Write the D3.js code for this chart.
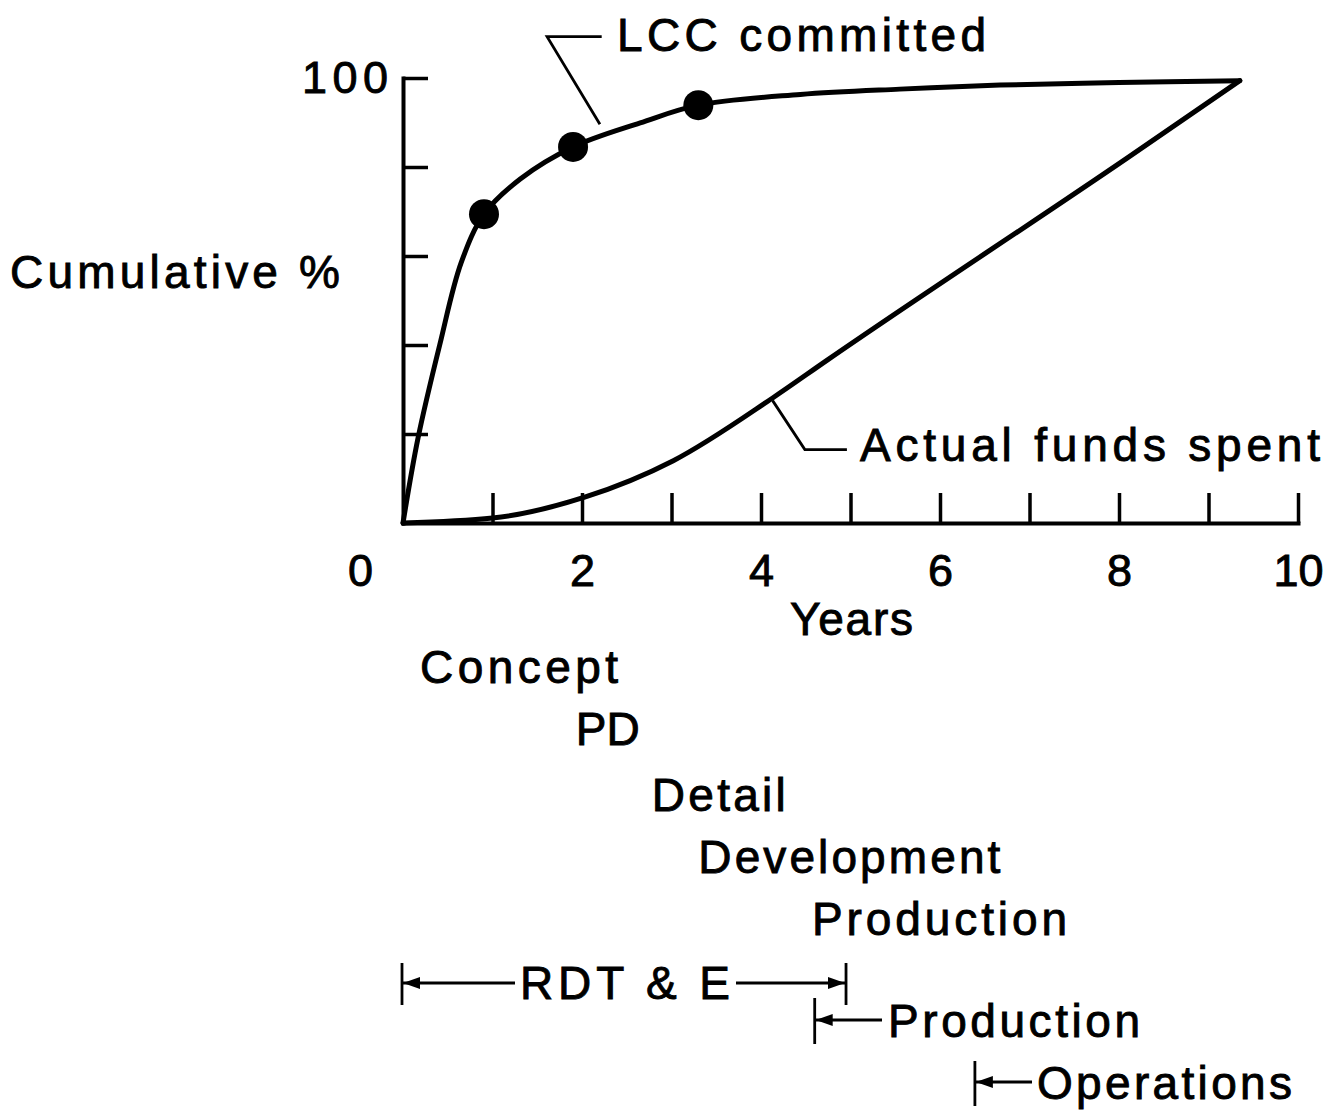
<!DOCTYPE html>
<html><head><meta charset="utf-8">
<script src="https://cdn.jsdelivr.net/npm/d3@7"></script>
<style>
body{margin:0;background:#fff}
svg text{font-family:"Liberation Sans",Arial,Helvetica,sans-serif;fill:#000;stroke:#000;stroke-width:0.9px}
</style>
</head><body>
<svg id="c" width="1337" height="1110"></svg>
<script>
// ---- data ----
const lccYears   = [0, 0.168, 0.41, 0.65, 0.905, 1.31, 1.90, 2.65, 3.30, 4.44, 5.55, 6.67, 8.0, 9.35];
const lccValues  = [0, 19.1, 40, 58.5, 69.4, 77.3, 84.5, 89.9, 93.9, 96.3, 97.5, 98.4, 99.0, 99.4];
const markerYears  = [0.905, 1.90, 3.30];
const markerValues = [69.4, 84.5, 93.9];
const fundsYears  = [0, 1.0, 2.03, 3.02, 4.13, 4.74, 8.09, 9.35];
const fundsValues = [0, 1.1, 5.8, 14.0, 28.1, 36.6, 82.0, 99.4];
const xTickValues = [0,1,2,3,4,5,6,7,8,9,10];
const xTickLabels = ["0","","2","","4","","6","","8","","10"];
const yTickValues = [20,40,60,80,100];
const yTickLabels = ["","","","","100"];
const phaseNames  = ["Concept","PD","Detail","Development","Production"];
const phaseStarts = [0.19, 1.93, 2.78, 3.30, 4.57];
const spanNames   = ["RDT & E","Production","Operations"];
const spanStarts  = [0, 4.6, 6.39];
const spanEnds    = [4.95, null, null];

// ---- layout ----
const svg = d3.select("#c");
const x = d3.scaleLinear().domain([0,10]).range([403,1298]);
const y = d3.scaleLinear().domain([0,100]).range([523,78]);
const FS = 46;

// axes
const xAxis = d3.axisBottom(x).tickValues(xTickValues).tickSize(-30).tickSizeOuter(0).tickPadding(31)
  .tickFormat((d,i)=>xTickLabels[i]);
const gx = svg.append("g").attr("transform","translate(0,523)").call(xAxis);
gx.select(".domain").attr("stroke-width",4).attr("stroke-linecap","square");
gx.selectAll(".tick line").attr("stroke-width",3.5);
gx.selectAll(".tick").filter(d=>d===0).select("line").remove();
gx.selectAll(".tick text").attr("font-size",45).attr("font-family",null);
gx.selectAll(".tick").filter(d=>d===0).select("text").attr("dx",-43);

const yAxis = d3.axisLeft(y).tickValues(yTickValues).tickSize(-25).tickSizeOuter(0).tickPadding(15)
  .tickFormat((d,i)=>yTickLabels[i]);
const gy = svg.append("g").attr("transform","translate(403,0)").call(yAxis);
gy.select(".domain").attr("stroke-width",4).attr("stroke-linecap","square");
gy.selectAll(".tick line").attr("stroke-width",3.5);
gy.selectAll(".tick text").attr("font-size",45).attr("font-family",null)
  .attr("textLength",d=>d===100?86:null).attr("lengthAdjust","spacing");

// curves
const lccData = lccYears.map((t,i)=>[t,lccValues[i]]);
const fundsData = fundsYears.map((t,i)=>[t,fundsValues[i]]);
const smooth = d3.line().x(d=>x(d[0])).y(d=>y(d[1])).curve(d3.curveCatmullRom.alpha(0.5));
const mono = d3.line().x(d=>x(d[0])).y(d=>y(d[1])).curve(d3.curveMonotoneX);
svg.append("path").datum(lccData).attr("d",smooth).attr("fill","none").attr("stroke","#000")
  .attr("stroke-width",5).attr("stroke-linejoin","round").attr("stroke-linecap","round");
svg.append("path").datum(fundsData).attr("d",mono).attr("fill","none").attr("stroke","#000")
  .attr("stroke-width",5).attr("stroke-linejoin","round").attr("stroke-linecap","round");
svg.selectAll("circle.m").data(markerYears).join("circle").attr("class","m")
  .attr("cx",d=>x(d)).attr("cy",(d,i)=>y(markerValues[i])).attr("r",15).attr("fill","#000");

// text helper
function txt(s, px, py, len, anchor){
  return svg.append("text").attr("x",px).attr("y",py).attr("font-size",FS)
    .attr("text-anchor",anchor||"start").attr("textLength",len).attr("lengthAdjust","spacing").text(s);
}

// leader lines
const lead = (pts)=>svg.append("path").attr("d",d3.line()(pts)).attr("fill","none")
  .attr("stroke","#000").attr("stroke-width",2.8);
lead([[x(2.22),y(109.3)],[x(1.61),y(109.3)],[x(2.20),y(89.6)]]);
txt("LCC committed", 617, 51, 369);
lead([[x(4.13),y(27.5)],[x(4.49),y(16.5)],[x(4.96),y(16.5)]]);
txt("Actual funds spent", 860, 461, 460);

txt("Cumulative %", 10, 288, 330);
txt("Years", 790, 635, 123);

// phases
const phaseBase = [683, 745, 811, 873, 935];
const phaseLen = [198, 64, 134, 302, 255];
phaseNames.forEach((n,i)=>txt(n, x(phaseStarts[i]), phaseBase[i], phaseLen[i]));

// spans with arrows
function bar(px, y0, y1){
  svg.append("line").attr("x1",px).attr("x2",px).attr("y1",y0).attr("y2",y1)
    .attr("stroke","#000").attr("stroke-width",2.8);
}
function arrow(x0, x1, py){ // tip at x0, shaft to x1
  svg.append("line").attr("x1",x0).attr("x2",x1).attr("y1",py).attr("y2",py)
    .attr("stroke","#000").attr("stroke-width",2.8);
  const dir = x1 > x0 ? 1 : -1;
  svg.append("path").attr("d",`M${x0},${py}L${x0+dir*17},${py-6}L${x0+dir*17},${py+6}Z`).attr("fill","#000");
}
// RDT & E
{
  const a = x(spanStarts[0]) - 1, b = x(spanEnds[0]);
  bar(a, 963, 1005); bar(b, 963, 1005);
  arrow(a+1, 515, 983);
  arrow(b-1, 736, 983);
  txt(spanNames[0], 520, 999, 210);
}
// Production
{
  const a = x(spanStarts[1]);
  bar(a, 998, 1044);
  arrow(a+1, 882, 1020);
  txt(spanNames[1], 888, 1037, 252);
}
// Operations
{
  const a = x(spanStarts[2]);
  bar(a, 1061, 1106);
  arrow(a+1, 1032, 1082);
  txt(spanNames[2], 1037, 1099, 255);
}
</script>
</body></html>
